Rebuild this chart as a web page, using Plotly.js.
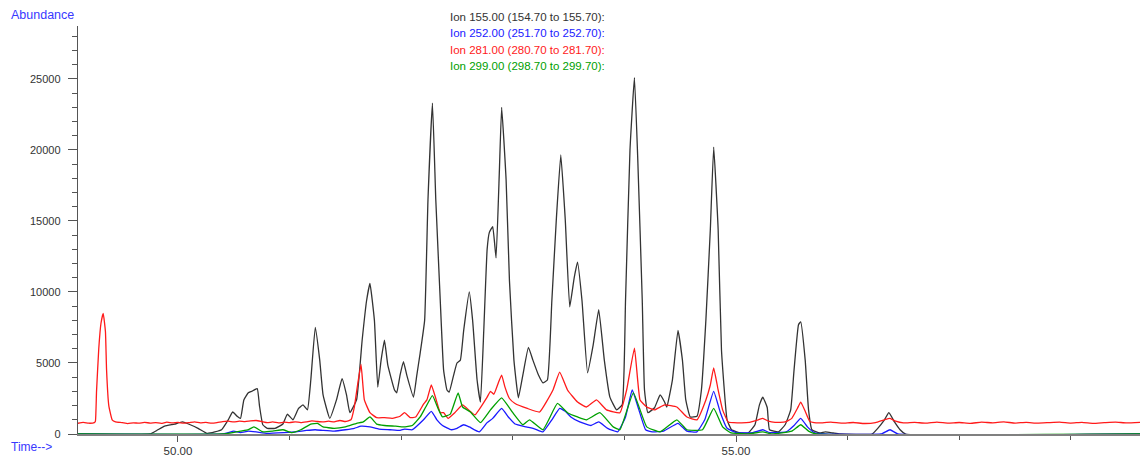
<!DOCTYPE html>
<html>
<head>
<meta charset="utf-8">
<script src="https://cdn.plot.ly/plotly-3.0.1.min.js"></script>
<style>
  html, body { margin: 0; padding: 0; background: #ffffff; }
  #chart { width: 1147px; height: 456px; }
</style>
</head>
<body>
<div id="chart"></div>
<script>
// ---- Data (time in minutes, abundance) ----
const ionLabels = [
  "Ion 155.00 (154.70 to 155.70):",
  "Ion 252.00 (251.70 to 252.70):",
  "Ion 281.00 (280.70 to 281.70):",
  "Ion 299.00 (298.70 to 299.70):"
];

const time155 = [49.10,49.75,49.81,49.88,49.97,50.04,50.11,50.18,50.26,50.33,50.39,50.45,50.49,50.53,50.56,50.59,50.63,50.66,50.71,50.73,50.76,50.80,50.87,50.94,50.98,51.03,51.08,51.12,51.16,51.19,51.23,51.27,51.30,51.36,51.42,51.47,51.51,51.54,51.60,51.65,51.69,51.72,51.76,51.79,51.82,51.85,51.88,51.94,51.96,51.99,52.02,52.05,52.11,52.14,52.17,52.21,52.24,52.28,52.31,52.35,52.38,52.41,52.43,52.47,52.50,52.53,52.56,52.61,52.64,52.68,52.71,52.74,52.77,52.79,52.82,52.85,52.88,52.90,52.94,52.97,53.01,53.05,53.09,53.14,53.18,53.23,53.27,53.31,53.35,53.39,53.43,53.47,53.51,53.55,53.58,53.62,53.67,53.72,53.77,53.82,53.87,53.93,53.98,54.01,54.05,54.09,54.12,54.16,54.18,54.21,54.27,54.32,54.36,54.38,54.43,54.48,54.52,54.55,54.59,54.65,54.69,54.73,54.77,54.80,54.84,54.87,54.92,54.96,55.04,55.11,55.17,55.21,55.24,55.28,55.30,55.38,55.44,55.49,55.52,55.56,55.58,55.62,55.65,55.68,55.75,55.80,55.87,55.93,56.22,56.27,56.33,56.37,56.42,56.47,56.52,58.62];
const abund155 = [0,0,250,550,700,850,650,400,50,150,300,1000,1550,1250,1100,2400,2900,3000,3200,2000,650,400,400,700,1400,1000,1800,2050,1700,3800,7500,5200,2750,1100,2400,3900,2750,1500,2400,6600,9400,10600,8000,3300,5200,6600,4850,3100,2900,4150,5100,4150,2600,4150,5700,8000,16500,23300,16500,9400,4500,3100,2950,4150,5000,5200,7300,10000,8000,3800,2250,7300,13000,14200,14600,12400,18600,23000,17900,10800,5200,2550,4150,6100,5200,4150,3600,3800,9400,15100,19650,15100,8950,11000,12100,9400,4300,6250,8750,5200,2600,1700,2050,9400,20000,25100,19300,9400,3100,1500,1850,2750,2250,1900,3800,7300,5200,2400,1200,1250,3100,8000,14400,20200,14400,5900,1000,300,70,70,650,2050,2600,1850,300,150,650,1700,4500,7700,7900,5200,1700,300,70,150,70,0,0,400,1000,1500,850,300,0,0];

const time252 = [49.10,50.40,50.45,50.50,50.56,50.63,50.70,50.80,50.95,51.05,51.15,51.23,51.30,51.40,51.50,51.58,51.64,51.72,51.80,51.90,51.99,52.03,52.10,52.20,52.27,52.32,52.37,52.45,52.50,52.56,52.61,52.70,52.77,52.82,52.90,52.96,53.02,53.12,53.20,53.27,53.35,53.42,53.47,53.52,53.60,53.70,53.77,53.85,53.94,54.01,54.07,54.13,54.19,54.25,54.35,54.48,54.56,54.65,54.72,54.80,54.86,54.92,55.00,55.15,55.24,55.30,55.45,55.52,55.58,55.64,55.70,55.80,56.30,56.38,56.45,58.62];
const abund252 = [0,0,100,200,100,200,150,50,100,150,250,300,250,200,300,400,550,500,350,300,250,350,300,1000,1600,1000,600,300,400,650,500,150,800,1100,1800,1200,700,500,350,150,1000,1800,1600,1200,850,600,850,400,150,1200,3100,1700,300,150,200,750,200,150,1000,3000,1500,400,100,100,300,100,150,600,1100,500,100,0,0,300,0,0];

const time281 = [49.10,49.15,49.20,49.25,49.26,49.27,49.29,49.31,49.33,49.35,49.36,49.38,49.41,49.44,49.50,49.55,49.60,49.65,49.70,49.75,49.80,49.85,49.90,49.95,50.00,50.05,50.10,50.15,50.20,50.25,50.30,50.35,50.40,50.45,50.50,50.55,50.60,50.65,50.70,50.75,50.80,50.85,50.90,50.95,51.00,51.05,51.10,51.15,51.20,51.25,51.30,51.35,51.40,51.45,51.50,51.55,51.58,51.61,51.64,51.67,51.72,51.78,51.85,51.92,51.99,52.03,52.08,52.13,52.20,52.23,52.27,52.31,52.35,52.38,52.42,52.48,52.55,52.66,52.77,52.80,52.83,52.87,52.90,52.93,52.97,53.02,53.13,53.24,53.36,53.42,53.49,53.58,53.66,53.75,53.84,53.96,54.02,54.09,54.14,54.20,54.27,54.36,54.47,54.56,54.65,54.73,54.77,54.80,54.84,54.88,54.93,54.98,55.05,55.12,55.20,55.24,55.29,55.35,55.44,55.50,55.55,55.58,55.62,55.66,55.70,55.75,55.85,55.95,56.05,56.15,56.25,56.33,56.38,56.43,56.50,56.60,56.70,56.80,56.90,57.00,57.10,57.20,57.30,57.40,57.50,57.60,57.70,57.80,57.90,58.00,58.10,58.20,58.30,58.40,58.50,58.62];
const abund281 = [750,820,760,800,900,3000,6000,7800,8500,7200,4500,2000,1000,850,800,730,790,760,820,770,800,750,830,780,820,760,800,850,780,820,760,800,870,900,850,900,870,920,950,880,800,850,780,830,800,860,800,850,920,880,850,900,850,950,880,1000,1900,3500,4900,2400,1500,1150,1150,1100,1250,1500,1150,1200,2100,2400,3450,2500,1500,1500,1100,1500,2050,1350,2600,3000,2800,3600,4150,3300,2500,2150,1800,1550,3100,4350,3100,2250,1900,2400,1700,1500,3100,6050,2400,1900,1700,2050,1900,1200,1000,2400,3450,4650,3100,1700,850,800,780,820,1000,1100,900,820,850,1100,1800,2250,1600,900,800,780,830,760,810,740,800,1000,1100,900,780,820,760,840,770,810,750,830,790,850,770,820,760,800,840,770,820,750,800,840,780,820];

const time299 = [49.10,50.40,50.49,50.56,50.63,50.68,50.76,50.85,50.94,51.02,51.10,51.19,51.25,51.30,51.40,51.50,51.60,51.66,51.72,51.78,51.85,51.95,52.02,52.10,52.17,52.22,52.28,52.33,52.37,52.44,52.51,52.55,52.62,52.71,52.80,52.90,53.00,53.09,53.15,53.27,53.40,53.49,53.58,53.66,53.78,53.90,53.96,54.08,54.20,54.32,54.47,54.56,54.70,54.80,54.88,54.95,55.10,55.24,55.32,55.50,55.58,55.65,55.72,58.62];
const abund299 = [0,0,100,200,300,500,150,200,300,100,300,700,750,500,400,500,750,850,1200,700,600,550,500,600,1200,1900,2700,1800,1200,1400,2900,1900,1550,800,1700,2550,1500,650,1000,300,2150,1500,1200,1000,1500,500,300,2900,500,150,1000,300,300,1800,500,100,0,150,0,200,650,200,0,0];

const seriesColors = ["#333333", "#1a1aff", "#ff1a1a", "#00a000"];
const xTickVals = [50, 55];
const xTickText = ["50.00", "55.00"];

// ---- Traces ----
const traces = [
  {x: time155, y: abund155, name: ionLabels[0], color: seriesColors[0]},
  {x: time281, y: abund281, name: ionLabels[2], color: seriesColors[2]},
  {x: time252, y: abund252, name: ionLabels[1], color: seriesColors[1]},
  {x: time299, y: abund299, name: ionLabels[3], color: seriesColors[3]}
].map(s => ({
  type: "scatter", mode: "lines", x: s.x, y: s.y, name: s.name,
  line: {color: s.color, width: 1.3, shape: "spline", smoothing: 0.35}, hoverinfo: "x+y+name"
}));

const legendY = [17, 33, 50, 66];
const plotTop = 26, plotBottom = 434, plotLeft = 78, plotRight = 1140;
const pxToPaperY = py => (plotBottom - py) / (plotBottom - plotTop);
const pxToPaperX = px => (px - plotLeft) / (plotRight - plotLeft);
const fontFam = "Liberation Sans, Arial, sans-serif";

const annotations = ionLabels.map((t, i) => ({
  text: t, xref: "paper", yref: "paper",
  x: pxToPaperX(448), y: pxToPaperY(legendY[i]),
  xanchor: "left", yanchor: "middle", showarrow: false,
  font: {family: fontFam, size: 11.5, color: seriesColors[i]}
}));
annotations.push({
  text: "Abundance", xref: "paper", yref: "paper",
  x: pxToPaperX(9), y: pxToPaperY(15), xanchor: "left", yanchor: "middle",
  showarrow: false, font: {family: fontFam, size: 12.5, color: "#3838ff"}
});
annotations.push({
  text: "Time-->", xref: "paper", yref: "paper",
  x: pxToPaperX(9), y: pxToPaperY(447), xanchor: "left", yanchor: "middle",
  showarrow: false, font: {family: fontFam, size: 12, color: "#3838ff"}
});

const layout = {
  width: 1147, height: 456,
  margin: {l: plotLeft, r: 1147 - plotRight, t: plotTop, b: 456 - plotBottom, pad: 0},
  paper_bgcolor: "#ffffff", plot_bgcolor: "#ffffff",
  showlegend: false,
  font: {family: fontFam, size: 11, color: "#333333"},
  xaxis: {
    range: [49.104, 58.62], showgrid: false, zeroline: false,
    showline: true, linecolor: "#808080", linewidth: 1.5,
    tickmode: "array", tickvals: xTickVals, ticktext: xTickText,
    ticks: "outside", ticklen: 6, tickcolor: "#555", tickwidth: 1,
    minor: {tickmode: "linear", tick0: 50, dtick: 1, ticks: "outside", ticklen: 4, tickcolor: "#555", showgrid: false},
    tickfont: {size: 11.5, color: "#333"}, fixedrange: true
  },
  yaxis: {
    range: [0, 28730], showgrid: false, zeroline: false,
    showline: true, linecolor: "#555555", linewidth: 1.3,
    tick0: 0, dtick: 5000, tickformat: "d",
    ticks: "outside", ticklen: 9, tickcolor: "#555", tickwidth: 1,
    ticklabelstandoff: 5,
    minor: {tick0: 0, dtick: 1000, ticks: "outside", ticklen: 5, tickcolor: "#555", showgrid: false},
    tickfont: {size: 11, color: "#333"}, fixedrange: true
  },
  annotations: annotations
};

Plotly.newPlot("chart", traces, layout, {displayModeBar: false, staticPlot: true});
</script>
</body>
</html>
